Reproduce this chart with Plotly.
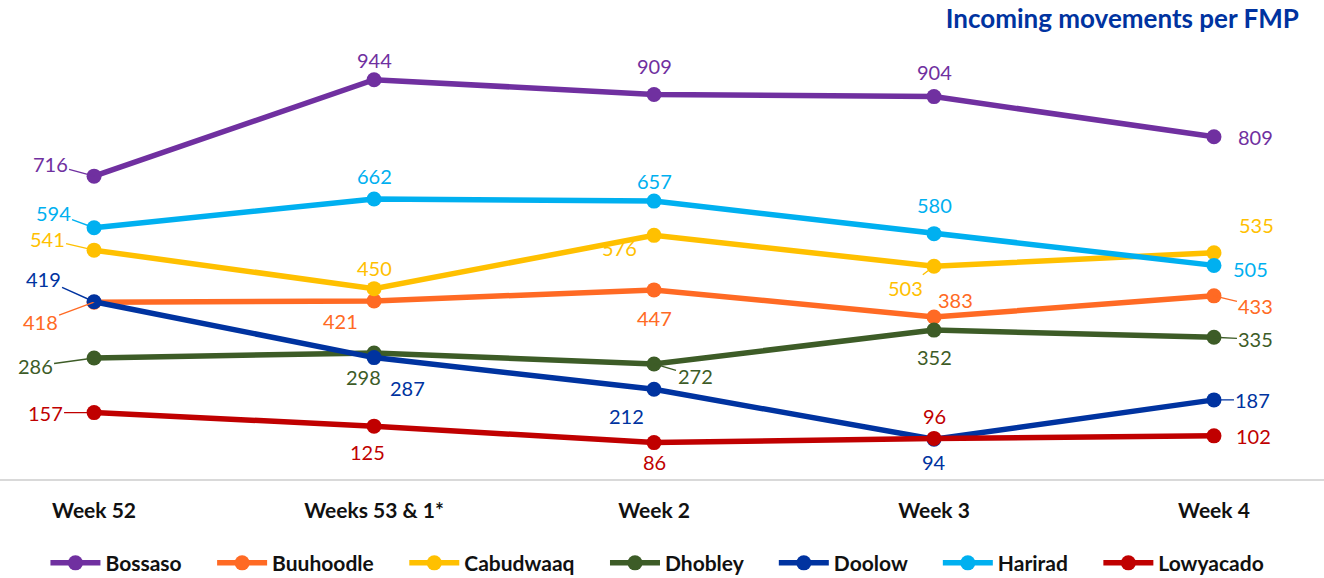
import plotly.graph_objects as go

weeks = ["Week 52", "Weeks 53 & 1*", "Week 2", "Week 3", "Week 4"]

bossaso = [716, 944, 909, 904, 809]
buuhoodle = [418, 421, 447, 383, 433]
cabudwaaq = [541, 450, 576, 503, 535]
dhobley = [286, 298, 272, 352, 335]
doolow = [419, 287, 212, 94, 187]
harirad = [594, 662, 657, 580, 505]
lowyacado = [157, 125, 86, 96, 102]

series = [
    ("Bossaso", bossaso, "#7030A0"),
    ("Buuhoodle", buuhoodle, "#FF6A24"),
    ("Cabudwaaq", cabudwaaq, "#FFC000"),
    ("Dhobley", dhobley, "#3D5C27"),
    ("Doolow", doolow, "#0033A0"),
    ("Harirad", harirad, "#00B0F0"),
    ("Lowyacado", lowyacado, "#C00000"),
]

# label offsets (pixels, text centre relative to point) and leader-line flag
label_style = {
    "Bossaso": [(-44, -12, True), (0, -20, False), (0, -28, False), (0, -25, False), (42, 0, False)],
    "Buuhoodle": [(-54, 20, True), (-34, 20, False), (0, 28, False), (21, -17, False), (42, 10, True)],
    "Cabudwaaq": [(-47, -11, True), (0, -21, False), (-35, 13, False), (-29, 22, True), (43, -28, False)],
    "Dhobley": [(-59, 8, True), (-11, 24, False), (41, 12, True), (0, 27, False), (42, 2, True)],
    "Doolow": [(-51, -23, True), (33, 30, False), (-28, 27, False), (0, 23, False), (39, 0, True)],
    "Harirad": [(-41, -15, True), (0, -23, False), (0, -20, False), (0, -29, False), (37, 4, False)],
    "Lowyacado": [(-49, 0, True), (-7, 26, False), (0, 19, False), (0, -22, False), (40, 0, False)],
}

xs = list(range(len(weeks)))
legend_pad = "\u00a0" * 5

fig = go.Figure()
annotations = []
for name, vals, color in series:
    fig.add_trace(go.Scatter(
        x=xs, y=vals, name=name + legend_pad, mode="lines+markers",
        line=dict(color=color, width=5.5),
        marker=dict(color=color, size=15),
        hovertemplate=name + ": %{y}<extra></extra>",
    ))
    for i, v in enumerate(vals):
        ax, ay, leader = label_style[name][i]
        annotations.append(dict(
            x=xs[i], y=v, xref="x", yref="y",
            text=str(v), showarrow=True,
            ax=ax, ay=ay, axref="pixel", ayref="pixel",
            arrowhead=0, arrowwidth=1.4 if leader else 0.1,
            arrowcolor=color if leader else "rgba(0,0,0,0)",
            standoff=0, startstandoff=0,
            font=dict(family="Lato", size=20, color=color),
        ))

fig.update_layout(
    width=1324, height=578, autosize=False,
    paper_bgcolor="white", plot_bgcolor="white",
    margin=dict(l=0, r=0, t=56, b=99, autoexpand=False),
    showlegend=True,
    legend=dict(
        orientation="h", xref="paper", yref="paper",
        x=0.506, xanchor="center", y=-0.199, yanchor="middle",
        font=dict(family="Lato", size=21, color="#111111", weight="bold"),
        itemwidth=50, traceorder="normal",
    ),
    title=dict(
        text="<b>Incoming movements per FMP</b>",
        xref="container", yref="container",
        x=0.981, xanchor="right", y=0.967, yanchor="middle",
        font=dict(family="Lato", size=26, color="#0033A0"),
    ),
    annotations=annotations,
    xaxis=dict(
        range=[-0.336, 4.393], tickmode="array", tickvals=xs, ticktext=weeks,
        showgrid=False, zeroline=False, showline=True, linecolor="#D9D9D9", linewidth=2,
        ticks="", ticklabelstandoff=12, fixedrange=True,
        tickfont=dict(family="Lato", size=21, color="#111111", weight="bold"),
    ),
    yaxis=dict(
        range=[0, 1000], showgrid=False, zeroline=False, showline=False,
        showticklabels=False, ticks="", fixedrange=True,
    ),
)

fig.write_html("out.html", config={"displayModeBar": False},
               post_script="document.body.style.margin='0';")
